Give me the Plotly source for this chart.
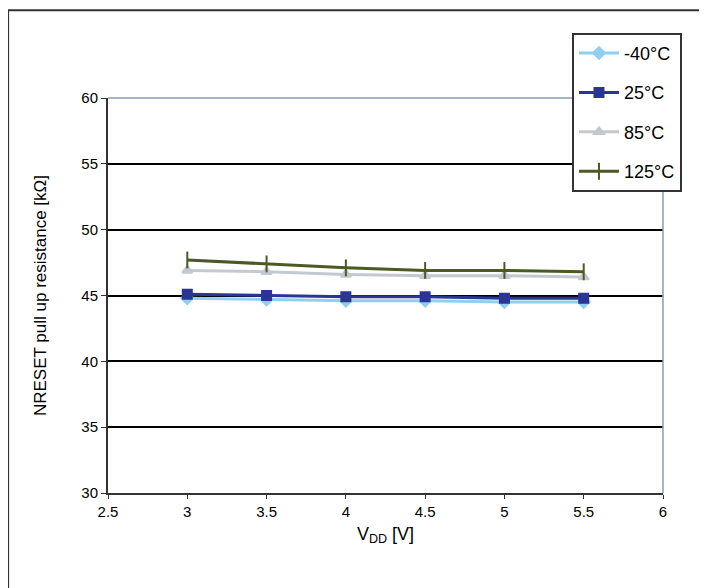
import plotly.graph_objs as go

vdd = [3, 3.5, 4, 4.5, 5, 5.5]
r_m40 = [44.8, 44.7, 44.6, 44.6, 44.5, 44.5]
r_25 = [45.1, 45.0, 44.9, 44.9, 44.8, 44.8]
r_85 = [46.9, 46.8, 46.6, 46.5, 46.5, 46.4]
r_125 = [47.7, 47.4, 47.1, 46.9, 46.9, 46.8]

names = ["-40°C", "25°C", "85°C", "125°C"]
colors = ["#8fd0f0", "#2a3596", "#c4c8d0", "#4b5a24"]
symbols = ["diamond", "square", "triangle-up", "line-ns"]
series = [r_m40, r_25, r_85, r_125]

fig = go.Figure()
for name, ys, c, s in zip(names, series, colors, symbols):
    fig.add_trace(go.Scatter(
        x=vdd, y=ys, name=name, mode="lines+markers",
        line=dict(color=c, width=3),
        marker=dict(symbol=s, size=9 if s != "line-ns" else 12, color=c,
                    line=dict(color=c, width=2)),
        legendgroup=name,
    ))

font = "Liberation Sans, Arial, sans-serif"
fig.update_layout(
    width=707, height=588,
    # page has an 8px body margin, so the plot area is shifted back
    margin=dict(l=100, r=52, t=90, b=103),
    plot_bgcolor="white", paper_bgcolor="white",
    font=dict(family=font, size=15, color="black"),
    showlegend=True,
    legend=dict(x=0.836, y=1.165, xanchor="left", yanchor="top",
                bordercolor="#333", borderwidth=2, bgcolor="white",
                font=dict(size=18), tracegroupgap=13, itemwidth=40),
    xaxis=dict(range=[2.5, 6], dtick=0.5, showgrid=False, zeroline=False,
               showline=True, linecolor="#333", linewidth=2,
               ticks="outside", ticklen=4, tickcolor="#333",
               title=dict(text="V<sub>DD</sub> [V]", standoff=8)),
    yaxis=dict(range=[30, 60], dtick=5, showgrid=True, gridcolor="black",
               gridwidth=1.5, zeroline=False,
               showline=True, linecolor="#333", linewidth=2,
               ticks="outside", ticklen=5, tickcolor="#333",
               title=dict(text="NRESET pull up resistance [kΩ]",
                          font=dict(size=17), standoff=30)),
    shapes=[
        dict(type="line", xref="paper", yref="paper", x0=0, x1=1, y0=1, y1=1,
             line=dict(color="#8d9bb0", width=1.5)),
        dict(type="line", xref="paper", yref="paper", x0=1, x1=1, y0=0, y1=1,
             line=dict(color="#8d9bb0", width=1.5)),
        dict(type="rect", xref="paper", yref="paper", x0=-0.18, x1=1.2,
             y0=-0.3, y1=1.222, line=dict(color="#333", width=2),
             layer="below"),
    ],
)

fig.write_html("out.html")
